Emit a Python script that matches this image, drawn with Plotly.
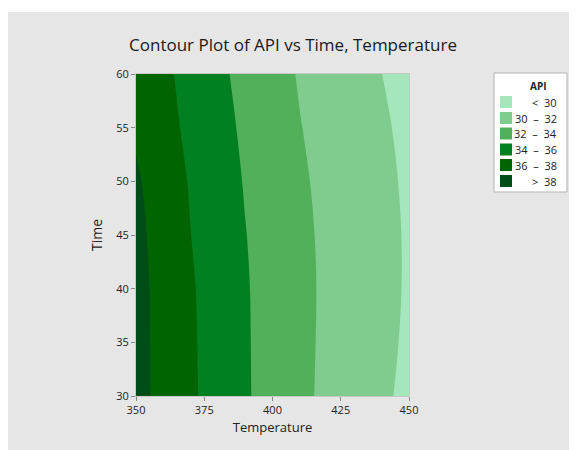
import plotly.graph_objects as go

# ---- data ----
temperature = [350, 360, 370, 380, 390, 400, 410, 420, 430, 440, 450]
time = [30, 35, 40, 45, 50, 55, 60]
api_t30 = [38.62, 37.45, 36.29, 35.23, 34.20, 33.29, 32.41, 31.63, 30.95, 30.27, 29.64]
api_t35 = [38.61, 37.43, 36.26, 35.20, 34.18, 33.30, 32.44, 31.68, 31.04, 30.39, 29.76]
api_t40 = [38.60, 37.39, 36.19, 35.16, 34.15, 33.29, 32.45, 31.71, 31.08, 30.45, 29.83]
api_t45 = [38.49, 37.25, 36.02, 35.03, 34.05, 33.22, 32.39, 31.67, 31.06, 30.44, 29.83]
api_t50 = [38.25, 37.03, 35.85, 34.86, 33.89, 33.07, 32.25, 31.58, 30.97, 30.36, 29.76]
api_t55 = [37.75, 36.64, 35.60, 34.62, 33.70, 32.88, 32.06, 31.43, 30.83, 30.22, 29.63]
api_t60 = [37.35, 36.39, 35.39, 34.38, 33.49, 32.66, 31.87, 31.25, 30.63, 30.01, 29.43]
api = [api_t30, api_t35, api_t40, api_t45, api_t50, api_t55, api_t60]

levels_start, levels_end, levels_step = 30, 38, 2
legend_labels = ["<  30", "30  –  32", "32  –  34", "34  –  36", "36  –  38", ">  38"]
band_colors = ["#a6e6bc", "#80cc8f", "#52b05a", "#008020", "#006400", "#004d18"]

OFF = 8  # page body margin
W, H = 577 - OFF, 450 - OFF
L, R, T, B = 136 - OFF, 409 - OFF, 74 - OFF, 396 - OFF  # plot area pixel box (figure coords)
FONT = "Open Sans"

def px(x):  # page pixel -> paper x
    return (x - OFF - L) / (R - L)

def py(y):  # page pixel -> paper y
    return (B - (y - OFF)) / (B - T)

n = len(band_colors)
colorscale = [[i / (n - 1), c] for i, c in enumerate(band_colors)]

fig = go.Figure()
fig.add_trace(go.Contour(
    x=temperature, y=time, z=api,
    autocontour=False,
    contours=dict(start=levels_start, end=levels_end, size=levels_step, coloring="fill"),
    colorscale=colorscale,
    line=dict(width=0),
    showscale=False,
    hoverinfo="x+y+z",
))

shapes = []
annotations = []
# white strip above the gray panel
shapes.append(dict(type="rect", xref="paper", yref="paper", x0=px(0), x1=px(600), y0=py(12), y1=py(0),
                   fillcolor="white", line=dict(width=0), layer="below"))

# legend box
shapes.append(dict(type="rect", xref="paper", yref="paper", x0=px(494), x1=px(567), y0=py(192), y1=py(73),
                   fillcolor="white", line=dict(color="#b4b4b4", width=1)))
annotations.append(dict(xref="paper", yref="paper", x=px(538), y=py(86), text="<b>API</b>", showarrow=False,
                        xanchor="center", yanchor="middle", font=dict(family=FONT, size=10, color="#222")))
item_y = [102, 118, 133.5, 149.5, 165, 181]
for lab, col, yc in zip(legend_labels, band_colors, item_y):
    shapes.append(dict(type="rect", xref="paper", yref="paper", x0=px(500), x1=px(512),
                       y0=py(yc + 6), y1=py(yc - 6), fillcolor=col, line=dict(width=0)))
    annotations.append(dict(xref="paper", yref="paper", x=px(559), y=py(yc), text=lab, showarrow=False,
                            xanchor="right", yanchor="middle", font=dict(family=FONT, size=11, color="#222")))

fig.update_layout(
    width=W, height=H,
    margin=dict(l=L, r=W - R, t=T, b=H - B, pad=0),
    paper_bgcolor="#e6e6e6",
    plot_bgcolor="#e6e6e6",
    title=dict(text="Contour Plot of API vs Time, Temperature", xref="paper", x=px(293), xanchor="center",
               yref="container", y=1 - (45 - OFF) / H, yanchor="middle",
               font=dict(family=FONT, size=17, color="#1a1a1a")),
    xaxis=dict(range=[350, 450], tickvals=[350, 375, 400, 425, 450], ticks="outside", ticklen=4,
               tickcolor="#888", showgrid=False, zeroline=False, showline=True, linecolor="#c8c8c8",
               mirror=True, tickfont=dict(family=FONT, size=11, color="#222"),
               title=dict(text="Temperature", font=dict(family=FONT, size=13, color="#222"), standoff=6)),
    yaxis=dict(range=[30, 60], tickvals=[30, 35, 40, 45, 50, 55, 60], ticks="outside", ticklen=4,
               tickcolor="#888", showgrid=False, zeroline=False, showline=True, linecolor="#c8c8c8",
               mirror=True, tickfont=dict(family=FONT, size=11, color="#222"),
               title=dict(text="Time", font=dict(family=FONT, size=14, color="#222"), standoff=10)),
    shapes=shapes,
    annotations=annotations,
    showlegend=False,
)

fig.write_html("out.html")
